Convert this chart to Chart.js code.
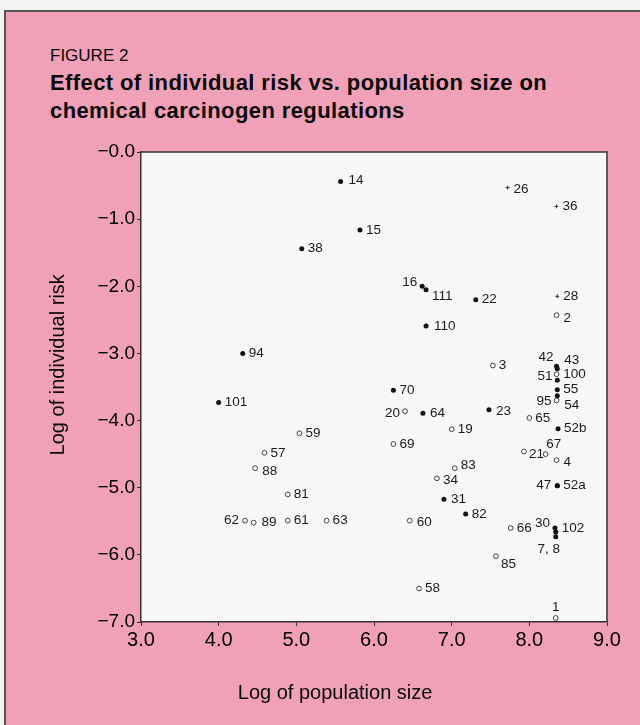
<!DOCTYPE html>
<html>
<head>
<meta charset="utf-8">
<script src="https://cdn.jsdelivr.net/npm/chart.js@4.4.1/dist/chart.umd.min.js"></script>
<style>
  html, body { margin: 0; padding: 0; background: #f3f3f1; }
  #wrap { position: relative; width: 640px; height: 725px; overflow: hidden; }
  #panel { position: absolute; left: 4px; top: 10px; width: 650px; height: 730px;
           background: #f0a1b7; border-top: 2px solid #555; border-left: 2px solid #555; }
  .t { position: absolute; left: 50px; color: #0a0a0a; white-space: nowrap;
       font-family: "Liberation Sans", Arial, sans-serif; }
  #fig { top: 46px; font-size: 17px; line-height: 20px; }
  #title { top: 69px; font-size: 22px; line-height: 28px; font-weight: bold; letter-spacing: 0.4px; }
  canvas { position: absolute; left: 0; top: 0; }
</style>
</head>
<body>
<div id="wrap">
  <div id="panel"></div>
  <div class="t" id="fig">FIGURE 2</div>
  <div class="t" id="title">Effect of individual risk vs. population size on<br>chemical carcinogen regulations</div>
  <canvas id="riskChart" width="640" height="725"></canvas>
</div>
<script>
// filled dots
const solidIds = ["14", "15", "38", "94", "101", "16", "111", "22", "110", "70", "64", "23",
  "42", "43", "100", "55", "54", "52b", "47", "52a", "31", "82", "30", "102", "7, 8"];
const solidLogPop = [5.57, 5.82, 5.07, 4.31, 4.00, 6.62, 6.67, 7.31, 6.67, 6.25, 6.63, 7.48,
  8.35, 8.36, 8.36, 8.36, 8.36, 8.37, 8.36, 8.36, 6.90, 7.18, 8.33, 8.34, 8.34];
const solidLogRisk = [-0.44, -1.16, -1.44, -3.00, -3.73, -2.00, -2.05, -2.20, -2.59, -3.55, -3.89, -3.84,
  -3.19, -3.23, -3.40, -3.54, -3.63, -4.12, -4.97, -4.97, -5.17, -5.39, -5.60, -5.66, -5.73];

// open circles
const openIds = ["2", "3", "51", "95", "65", "20", "19", "69", "21", "67", "4", "83", "34",
  "60", "66", "85", "58", "1", "59", "57", "88", "81", "62", "89", "61", "63"];
const openLogPop = [8.35, 7.53, 8.35, 8.35, 8.00, 6.40, 7.00, 6.25, 7.93, 8.21, 8.35, 7.04, 6.81,
  6.46, 7.76, 7.57, 6.58, 8.34, 5.04, 4.59, 4.47, 4.89, 4.34, 4.45, 4.89, 5.39];
const openLogRisk = [-2.43, -3.18, -3.31, -3.70, -3.96, -3.86, -4.13, -4.35, -4.46, -4.50, -4.59, -4.71, -4.86,
  -5.49, -5.60, -6.02, -6.50, -6.94, -4.19, -4.48, -4.71, -5.10, -5.49, -5.52, -5.49, -5.49];

// tiny marks
const smallIds = ["26", "36", "28"];
const smallLogPop = [7.72, 8.35, 8.36];
const smallLogRisk = [-0.53, -0.81, -2.15];

const xTicks = [3, 4, 5, 6, 7, 8, 9];
const yTicks = [0, -1, -2, -3, -4, -5, -6, -7];

// where each label sits relative to its point: [dx, dy, align]
const labelOffset = {
  "16": [-5, -4, "right"], "111": [6, 7], "42": [-3, -9, "right"], "43": [7, -9],
  "51": [-4, 2, "right"], "100": [6, -6], "54": [7, 10], "95": [-5, 1, "right"],
  "67": [8, -10, "center"], "21": [5, 3], "4": [7, 2], "47": [-6, 0, "right"],
  "30": [-5, -5, "right"], "102": [6, -4], "7, 8": [-7, 13, "center"], "85": [5, 8],
  "1": [0, -11, "center"], "20": [-5, 2, "right"], "62": [-6, 0, "right"], "89": [8, 0],
  "88": [7, 3], "83": [6, -3], "34": [6, 2], "60": [7, 2], "110": [8, 0], "2": [7, 3],
  "26": [6, 2], "14": [8, -1], "64": [7, 0], "23": [7, 1], "31": [7, 0]
};

const toPoints = (xs, ys) => xs.map((x, i) => ({ x: x, y: ys[i] }));

const plotFrame = {
  id: "plotFrame",
  beforeDraw(chart) {
    const { ctx, chartArea: a } = chart;
    ctx.save();
    ctx.fillStyle = "#f7f7f5";
    ctx.fillRect(a.left, a.top, a.right - a.left, a.bottom - a.top);
    ctx.strokeStyle = "#333";
    ctx.lineWidth = 1.5;
    ctx.beginPath();
    ctx.moveTo(a.left, a.top);
    ctx.lineTo(a.right, a.top);
    ctx.lineTo(a.right, a.bottom);
    ctx.stroke();
    ctx.restore();
  }
};

const pointLabels = {
  id: "pointLabels",
  afterDatasetsDraw(chart) {
    const ctx = chart.ctx;
    ctx.save();
    ctx.font = '13.5px "Liberation Sans", Arial, sans-serif';
    ctx.fillStyle = "#1a1a1a";
    ctx.textBaseline = "middle";
    chart.data.datasets.forEach((ds, di) => {
      chart.getDatasetMeta(di).data.forEach((pt, i) => {
        const id = ds.ids[i];
        const off = labelOffset[id] || [6, 0];
        ctx.textAlign = off[2] || "left";
        ctx.fillText(id, pt.x + off[0], pt.y + off[1]);
      });
    });
    ctx.restore();
  }
};

const tickFont = { family: '"Liberation Sans", Arial, sans-serif' };

new Chart(document.getElementById("riskChart").getContext("2d"), {
  type: "scatter",
  data: {
    datasets: [
      { ids: solidIds, data: toPoints(solidLogPop, solidLogRisk),
        pointRadius: 2.5, backgroundColor: "#111", borderWidth: 0 },
      { ids: openIds, data: toPoints(openLogPop, openLogRisk),
        pointRadius: 2.4, backgroundColor: "#f7f7f5", borderColor: "#444", borderWidth: 1 },
      { ids: smallIds, data: toPoints(smallLogPop, smallLogRisk),
        pointStyle: "cross", pointRadius: 2, borderColor: "#333", borderWidth: 1 }
    ]
  },
  options: {
    responsive: false,
    animation: false,
    devicePixelRatio: 1,
    layout: { padding: { left: 0, top: 152, right: 33, bottom: 0 } },
    plugins: { legend: { display: false }, tooltip: { enabled: false } },
    scales: {
      x: {
        type: "linear", min: 3, max: 9,
        afterBuildTicks: s => { s.ticks = xTicks.map(v => ({ value: v })); },
        afterFit: s => { s.height = 103; },
        ticks: { color: "#000", font: { ...tickFont, size: 20 }, padding: 2,
                 callback: v => v.toFixed(1) },
        grid: { drawOnChartArea: false, tickLength: 4, color: "#333" },
        border: { color: "#333", width: 1.5 },
        title: { display: true, text: "Log of population size              ",
                 color: "#0a0a0a", font: { ...tickFont, size: 20 }, padding: { top: 0, bottom: 20 } }
      },
      y: {
        type: "linear", min: -7, max: 0,
        afterBuildTicks: s => { s.ticks = yTicks.map(v => ({ value: v })); },
        afterFit: s => { s.width = 141; },
        ticks: { color: "#000", font: { ...tickFont, size: 19 }, padding: 2,
                 callback: v => "\u2212" + Math.abs(v).toFixed(1) },
        grid: { drawOnChartArea: false, tickLength: 4, color: "#333" },
        border: { color: "#333", width: 1.5 },
        title: { display: true, text: "        Log of individual risk",
                 color: "#0a0a0a", font: { ...tickFont, size: 20 }, padding: { top: 46, bottom: 0 } }
      }
    }
  },
  plugins: [plotFrame, pointLabels]
});
</script>
</body>
</html>
